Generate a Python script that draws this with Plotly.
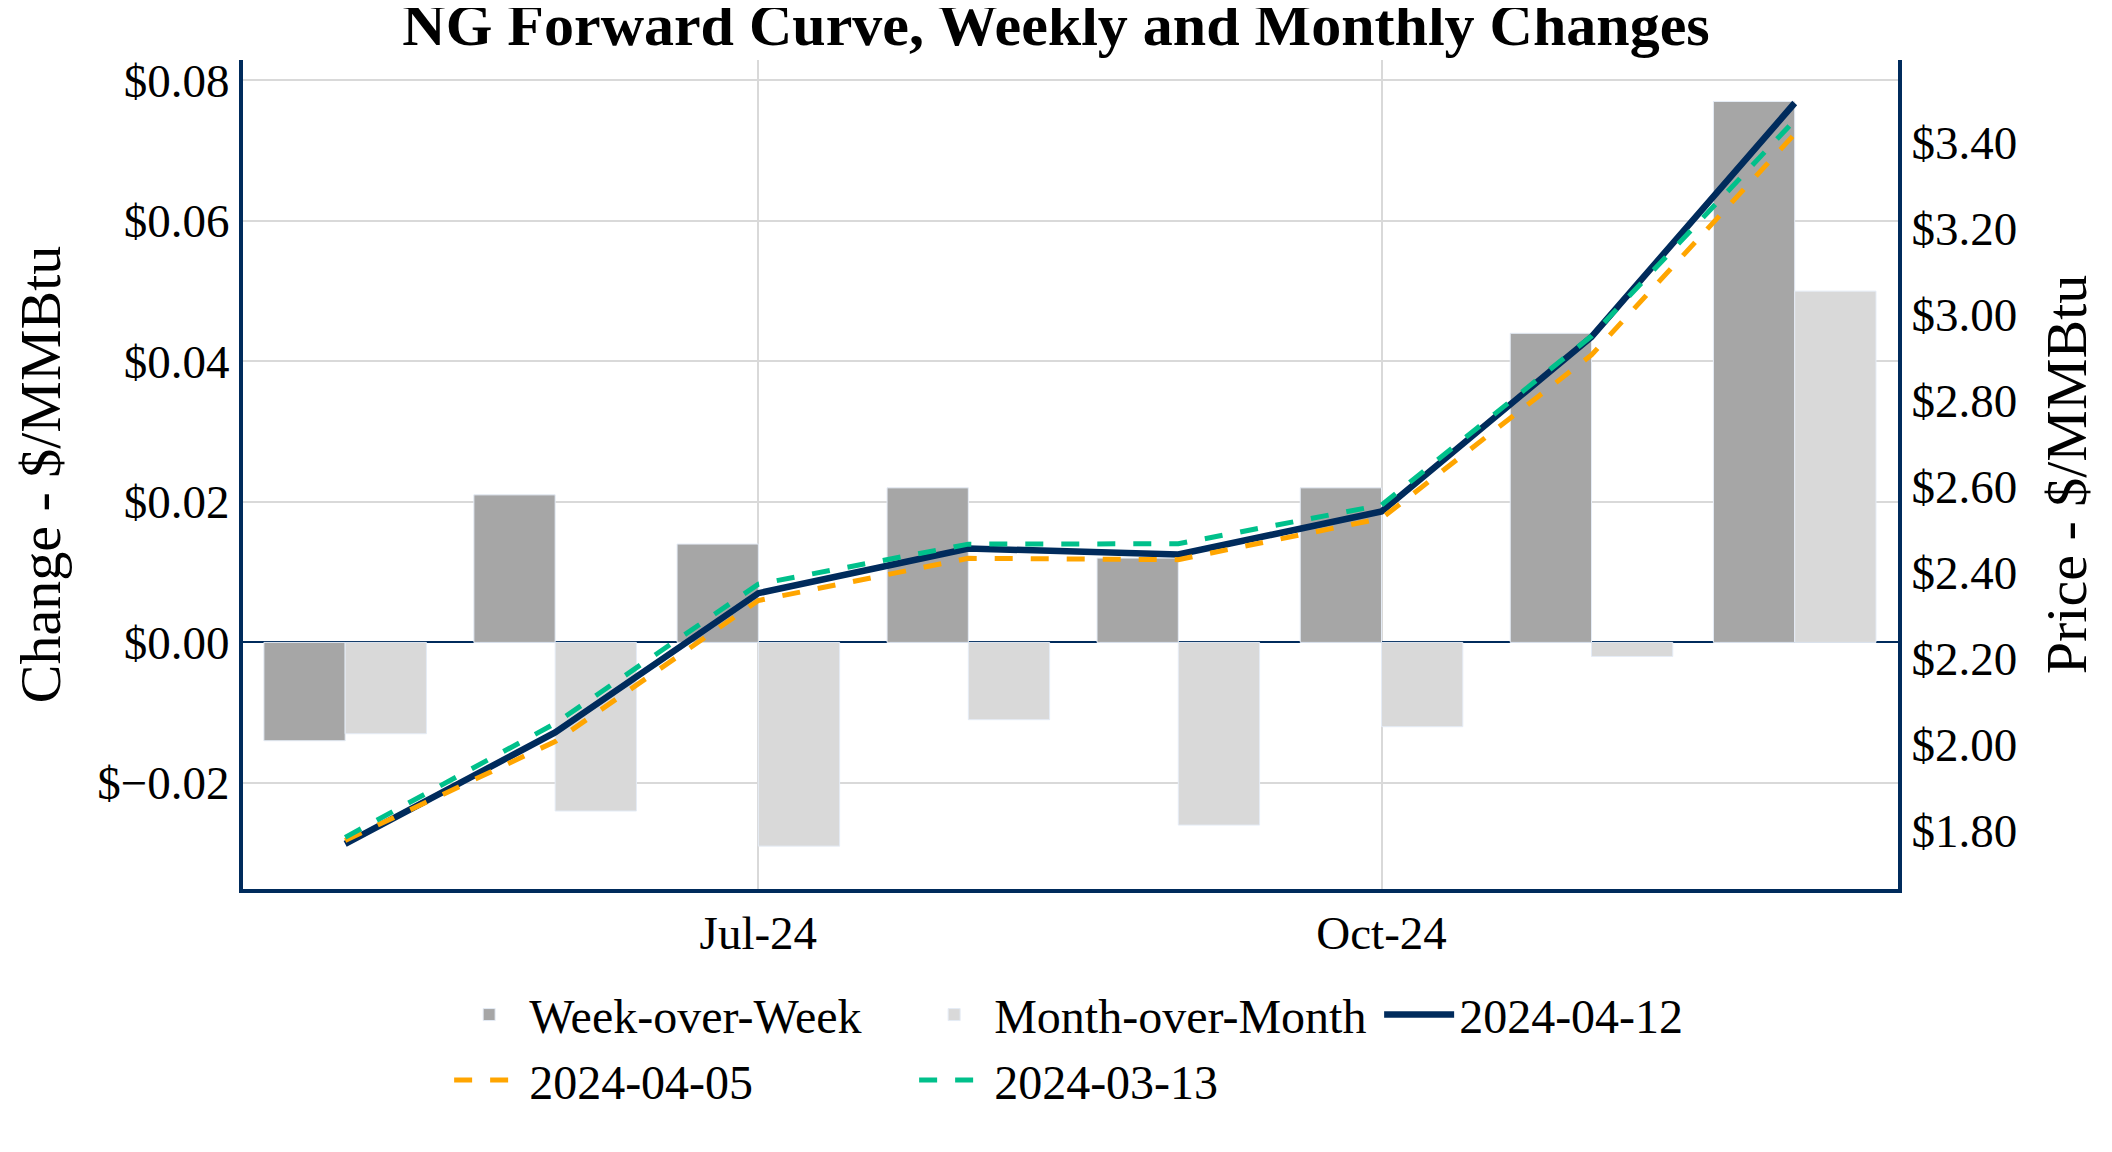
import plotly.graph_objects as go
from plotly.subplots import make_subplots

# ---- data ----
months = ["2024-05-01", "2024-06-01", "2024-07-01", "2024-08-01",
          "2024-09-01", "2024-10-01", "2024-11-01", "2024-12-01"]
week_over_week = [-0.014, 0.021, 0.014, 0.022, 0.012, 0.022, 0.044, 0.077]
month_over_month = [-0.013, -0.024, -0.029, -0.011, -0.026, -0.012, -0.002, 0.050]
curve_2024_04_12 = [1.770, 2.029, 2.353, 2.457, 2.443, 2.543, 2.949, 3.493]
curve_2024_04_05 = [1.778, 2.008, 2.336, 2.434, 2.431, 2.527, 2.907, 3.421]
curve_2024_03_13 = [1.785, 2.050, 2.374, 2.467, 2.468, 2.558, 2.951, 3.453]

NAVY = "#002B5C"
FONT = "Liberation Serif, Times New Roman, serif"

fig = make_subplots(specs=[[{"secondary_y": True}]])

fig.add_trace(go.Bar(x=months, y=week_over_week, name="Week-over-Week",
                     marker=dict(color="#A6A6A6", line=dict(color="#E5ECF6", width=1))),
              secondary_y=False)
fig.add_trace(go.Bar(x=months, y=month_over_month, name="Month-over-Month",
                     marker=dict(color="#D9D9D9", line=dict(color="#E5ECF6", width=1))),
              secondary_y=False)
fig.add_trace(go.Scatter(x=months, y=curve_2024_04_12, name="2024-04-12", mode="lines",
                         line=dict(color=NAVY, width=6.5)), secondary_y=True)
fig.add_trace(go.Scatter(x=months, y=curve_2024_04_05, name="2024-04-05", mode="lines",
                         line=dict(color="#FFA500", width=5, dash="18px,18px")), secondary_y=True)
fig.add_trace(go.Scatter(x=months, y=curve_2024_03_13, name="2024-03-13", mode="lines",
                         line=dict(color="#00C08B", width=5, dash="18px,18px")), secondary_y=True)

# page body has an 8px margin, so the figure is sized to fit the window
fig.update_layout(
    width=2096, height=1136,
    paper_bgcolor="white", plot_bgcolor="white",
    barmode="group",
    font=dict(family=FONT, size=47, color="black"),
    margin=dict(l=235, r=206, t=52, b=255, autoexpand=False),
    title=dict(text="<b>NG Forward Curve, Weekly and Monthly Changes</b>",
               x=0.5, xanchor="center", y=0.9859, yanchor="middle",
               font=dict(family=FONT, size=60, color="black")),
    legend=dict(orientation="h", x=0.546, xanchor="center", y=-0.106, yanchor="top",
                font=dict(family=FONT, size=48, color="black"), itemwidth=70,
                entrywidth=380, entrywidthmode="pixels",
                bgcolor="rgba(0,0,0,0)"),
    showlegend=True,
)

fig.update_xaxes(type="date", domain=[0, 1],
                 range=["2024-04-15 22:00", "2024-12-16 06:00"],
                 tickformat="%b-%y", dtick="M3", tick0="2024-01-01",
                 showgrid=True, gridcolor="#D9D9D9", gridwidth=2,
                 showline=True, linecolor=NAVY, linewidth=4, ticks="",
                 tickfont=dict(family=FONT, size=47, color="black"))

fig.update_yaxes(secondary_y=False, range=[-0.0351, 0.0829], dtick=0.02,
                 tickprefix="$", tickformat=".2f",
                 showgrid=True, gridcolor="#D9D9D9", gridwidth=2,
                 zeroline=True, zerolinecolor=NAVY, zerolinewidth=1.5,
                 showline=True, linecolor=NAVY, linewidth=4, ticks="",
                 title=dict(text="Change - $/MMBtu", standoff=37,
                            font=dict(family=FONT, size=58, color="black")),
                 tickfont=dict(family=FONT, size=47, color="black"))

fig.update_yaxes(secondary_y=True, range=[1.665, 3.593], dtick=0.2,
                 tickprefix="$", tickformat=".2f",
                 showgrid=False, zeroline=False,
                 showline=True, linecolor=NAVY, linewidth=4, ticks="",
                 title=dict(text="Price - $/MMBtu", standoff=30,
                            font=dict(family=FONT, size=58, color="black")),
                 tickfont=dict(family=FONT, size=47, color="black"))

fig.write_html("out.html")
